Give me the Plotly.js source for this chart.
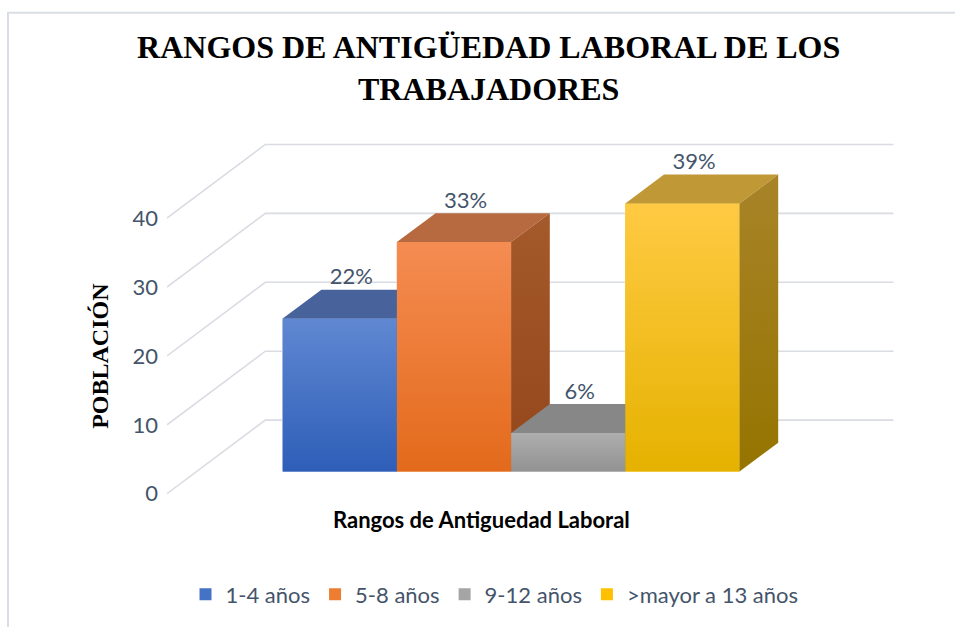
<!DOCTYPE html>
<html><head><meta charset="utf-8">
<script src="https://cdn.plot.ly/plotly-3.0.1.min.js"></script>
<style>html,body{margin:0;padding:0;background:#fff;overflow:hidden}#chart{width:955px;height:627px}</style>
</head><body><div id="chart"></div>
<script>
// ---- data ----
const categories = ['1-4 años', '5-8 años', '9-12 años', '>mayor a 13 años'];
const values = [22.2, 33.3, 5.6, 38.9];
const valueLabels = ['22%', '33%', '6%', '39%'];
const yTickValues = [0, 10, 20, 30, 40];

// ---- styles ----
const frontTop = ['#6088D2', '#F58C52', '#AEAEAE', '#FFCA43'];
const frontBottom = ['#2E5EB8', '#E36A1B', '#929292', '#E5B200'];
const topColors = ['#48639B', '#B76A3F', '#878787', '#C09835'];
const sideTop = ['#3A5595', '#A55A2B', '#7C7C7C', '#A88428'];
const sideBottom = ['#2A468A', '#93461A', '#6E6E6E', '#957400'];
const legendColors = ['#4472C4', '#ED7D31', '#A5A5A5', '#FFC000'];
const textColor = '#44546A';
const gridColor = '#D9DCE2';
const sansFont = 'Lato, "Open Sans", sans-serif';
const serifFont = '"Liberation Serif", "Times New Roman", serif';

// ---- oblique 3D geometry (axis units) ----
const floorL = -1.25, floorR = 4.25;
const wallDX = 0.861, wallDY = 10.68;
const barDX0 = 0.263, barDY0 = 3.23;
const depthDX = 0.339, depthDY = 4.18;

const traces = [];

// gridlines: side wall diagonal + back wall line
yTickValues.forEach(t => {
  traces.push({
    type: 'scatter', mode: 'lines', showlegend: false, hoverinfo: 'skip',
    x: [floorL, floorL + wallDX, floorR + wallDX],
    y: [t, t + wallDY, t + wallDY],
    line: {color: gridColor, width: 1.6}
  });
});

// bar traces (front faces, legend)
categories.forEach((c, i) => {
  traces.push({
    type: 'bar', name: c, x: [i], y: [values[i]], base: barDY0,
    width: 1, offset: -0.5 + barDX0,
    marker: {color: legendColors[i], line: {width: 0}},
    hoverinfo: 'skip', showlegend: true
  });
});

// 3D faces, drawn in order so later bars hide earlier sides
categories.forEach((c, i) => {
  const xl = i - 0.5 + barDX0, xr = xl + 1;
  const b = barDY0, h = barDY0 + values[i];
  // front
  traces.push({
    type: 'scatter', mode: 'lines', fill: 'toself', showlegend: false, hoverinfo: 'skip',
    x: [xl, xr, xr, xl, xl], y: [b, b, h, h, b],
    line: {width: 0, color: 'rgba(0,0,0,0)'},
    fillcolor: legendColors[i],
    fillgradient: {type: 'vertical', colorscale: [[0, frontBottom[i]], [1, frontTop[i]]]}
  });
  // top
  traces.push({
    type: 'scatter', mode: 'lines', fill: 'toself', showlegend: false, hoverinfo: 'skip',
    x: [xl, xr, xr + depthDX, xl + depthDX, xl], y: [h, h, h + depthDY, h + depthDY, h],
    line: {width: 0, color: 'rgba(0,0,0,0)'},
    fillcolor: topColors[i]
  });
  // side
  traces.push({
    type: 'scatter', mode: 'lines', fill: 'toself', showlegend: false, hoverinfo: 'skip',
    x: [xr, xr + depthDX, xr + depthDX, xr, xr], y: [b, b + depthDY, h + depthDY, h, b],
    line: {width: 0, color: 'rgba(0,0,0,0)'},
    fillcolor: sideBottom[i],
    fillgradient: {type: 'vertical', colorscale: [[0, sideBottom[i]], [1, sideTop[i]]]}
  });
});

// data labels
traces.push({
  type: 'scatter', mode: 'text', showlegend: false, hoverinfo: 'skip',
  x: categories.map((c, i) => i + barDX0 + depthDX * 0.3),
  y: values.map(v => barDY0 + v + depthDY),
  text: valueLabels, textposition: 'top center',
  textfont: {family: sansFont, size: 22, color: textColor},
  cliponaxis: false
});

const layout = {
  width: 955, height: 627,
  margin: {l: 167, r: 61, t: 140, b: 127, pad: 0},
  paper_bgcolor: '#fff', plot_bgcolor: 'rgba(0,0,0,0)',
  barmode: 'overlay',
  title: {
    text: 'RANGOS DE ANTIGÜEDAD LABORAL DE LOS<br>TRABAJADORES',
    font: {family: serifFont, size: 32, weight: 'bold', color: '#000'},
    xref: 'container', x: 0.5117, xanchor: 'center',
    yref: 'container', y: 0.907, yanchor: 'top'
  },
  xaxis: {range: [floorL, 5.116], showgrid: false, zeroline: false, showline: false,
          showticklabels: false, ticks: '', fixedrange: true},
  yaxis: {range: [-0.62, 51.33], tickvals: yTickValues, showgrid: false, zeroline: false,
          showline: false, ticks: '', ticklabelstandoff: 8,
          tickfont: {family: sansFont, size: 22, color: textColor}, fixedrange: true},
  showlegend: true,
  legend: {orientation: 'h', x: 0.4505, xanchor: 'center', y: -0.2694, yanchor: 'middle',
           font: {family: sansFont, size: 22, color: textColor}, traceorder: 'normal'},
  annotations: [
    {text: 'POBLACIÓN', textangle: -90, xref: 'paper', x: -0.0922, xanchor: 'center',
     yref: 'y', y: 20, yanchor: 'middle', showarrow: false,
     font: {family: serifFont, size: 24, weight: 'bold', color: '#000'}},
    {text: 'Rangos de Antiguedad Laboral', xref: 'x', x: (floorL + floorR) / 2, xanchor: 'center',
     yref: 'paper', y: -0.0603, yanchor: 'middle', showarrow: false,
     font: {family: sansFont, size: 22, weight: 'bold', color: '#000'}}
  ],
  shapes: [
    {type: 'path', xref: 'paper', yref: 'paper', layer: 'below',
     path: 'M -0.2187,-0.5 L -0.2187,1.3556 L 1.3,1.3556',
     line: {color: '#DADEE4', width: 2}}
  ]
};

Plotly.newPlot('chart', traces, layout, {staticPlot: true, displayModeBar: false});
</script>
</body></html>
